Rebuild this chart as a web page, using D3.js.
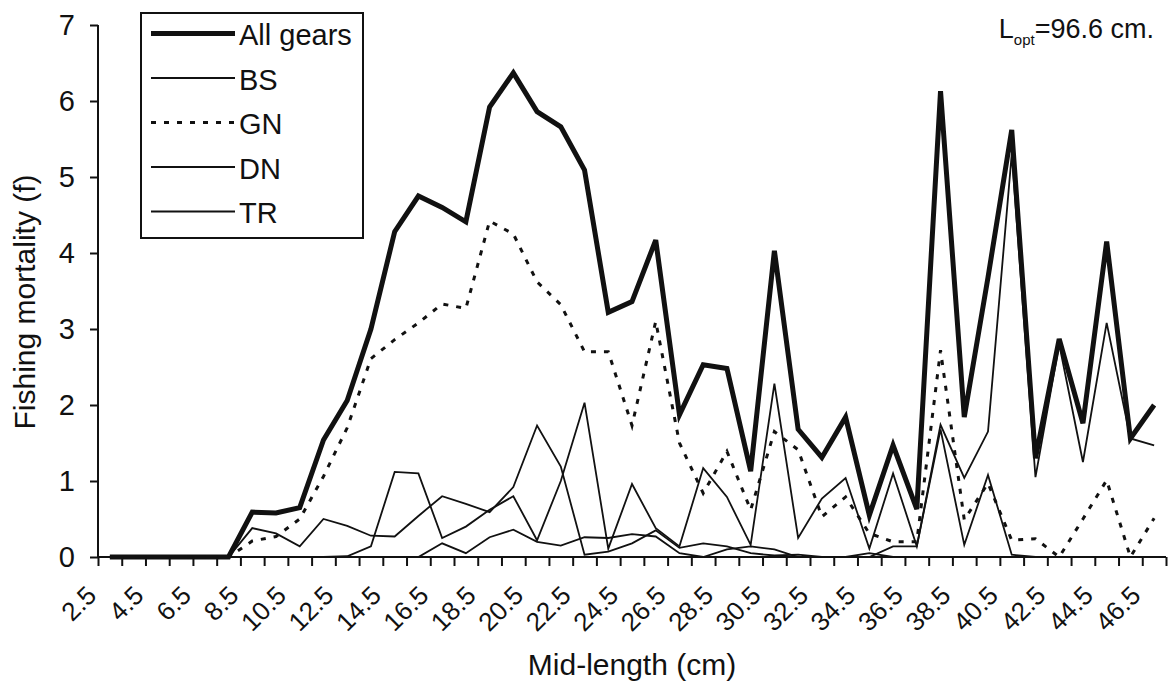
<!DOCTYPE html>
<html>
<head>
<meta charset="utf-8">
<script src="https://cdn.jsdelivr.net/npm/d3@7"></script>
<style>
  html, body { margin: 0; padding: 0; background: #fff; }
  svg { display: block; font-family: "Liberation Sans", Arial, sans-serif; }
</style>
</head>
<body>
<svg id="chart" width="1168" height="691"></svg>
<script>
// Mid-length classes (cm)
const categories = [
  "2.5","3.5","4.5","5.5","6.5","7.5","8.5","9.5","10.5","11.5",
  "12.5","13.5","14.5","15.5","16.5","17.5","18.5","19.5","20.5","21.5",
  "22.5","23.5","24.5","25.5","26.5","27.5","28.5","29.5","30.5","31.5",
  "32.5","33.5","34.5","35.5","36.5","37.5","38.5","39.5","40.5","41.5",
  "42.5","43.5","44.5","45.5","46.5"
];

// Fishing mortality per length class, by gear
const allGears = [
  0, 0, 0, 0, 0, 0, 0.59, 0.58, 0.65, 1.54,
  2.06, 3.0, 4.28, 4.75, 4.6, 4.41, 5.92, 6.37, 5.86, 5.66,
  5.09, 3.22, 3.36, 4.17, 1.87, 2.53, 2.48, 1.13, 4.03, 1.68,
  1.31, 1.84, 0.55, 1.47, 0.63, 6.13, 1.84, 3.68, 5.62, 1.3,
  2.87, 1.76, 4.15, 1.56, 2.0
];
const bs = [
  0, 0, 0, 0, 0, 0, 0.38, 0.31, 0.14, 0.5,
  0.41, 0.28, 0.27, 0.54, 0.8, 0.7, 0.59, 0.92, 1.73, 1.19,
  0.03, 0.07, 0.18, 0.35, 0.12, 0.18, 0.14, 0.05, 0.02, 0.03,
  0, 0, 0.05, 0, 0, 0, 0, 0, 0, 0,
  0, 0, 0, 0, 0
];
const gn = [
  0, 0, 0, 0, 0, 0, 0.21, 0.27, 0.5, 1.06,
  1.7, 2.61, 2.86, 3.08, 3.33, 3.27, 4.42, 4.25, 3.62, 3.32,
  2.7, 2.7, 1.73, 3.1, 1.5, 0.84, 1.39, 0.62, 1.65, 1.41,
  0.53, 0.79, 0.31, 0.2, 0.2, 2.72, 0.49, 0.97, 0.22, 0.24,
  0, 0.5, 1.01, 0, 0.51
];
const dn = [
  0, 0, 0, 0, 0, 0, 0, 0, 0, 0,
  0, 0, 0, 0, 0.18, 0.05, 0.26, 0.36, 0.2, 0.15,
  0.26, 0.25, 0.3, 0.27, 0.05, 0, 0.1, 0.14, 0.1, 0,
  0, 0, 0, 0.14, 0.14, 1.68, 0.16, 1.08, 0.03, 0,
  0, 0, 0, 0, 0
];
const tr = [
  0, 0, 0, 0, 0, 0, 0, 0, 0, 0,
  0.01, 0.14, 1.12, 1.1, 0.25, 0.4, 0.62, 0.8, 0.22, 1.0,
  2.03, 0.11, 0.96, 0.38, 0.14, 1.17, 0.79, 0.16, 2.28, 0.25,
  0.77, 1.04, 0.11, 1.1, 0.14, 1.74, 1.04, 1.65, 5.3, 1.05,
  2.8, 1.25, 3.08, 1.56, 1.47
];

const yTicks = [0, 1, 2, 3, 4, 5, 6, 7];
const xTickLabels = categories.filter((d, i) => i % 2 === 0);

const seriesNames = ["All gears", "BS", "GN", "DN", "TR"];
const seriesValues = [allGears, bs, gn, dn, tr];

const styles = {
  "All gears": { width: 5, dash: null },
  "BS": { width: 1.8, dash: null },
  "GN": { width: 3, dash: "5,8" },
  "DN": { width: 1.8, dash: null },
  "TR": { width: 1.8, dash: null }
};

const svg = d3.select("#chart");
const plot = { left: 98, right: 1166, top: 25, bottom: 557 };

const x = d3.scaleBand().domain(categories).range([plot.left, plot.right]).padding(0);
const xEdge = d3.scaleLinear().domain([0, categories.length]).range([plot.left, plot.right]);
const y = d3.scaleLinear().domain([0, 7]).range([plot.bottom, plot.top]);
const cx = c => x(c) + x.bandwidth() / 2;

// Series lines
const line = d3.line()
  .x(d => cx(d.c))
  .y(d => y(d.v));

seriesNames.forEach((name, k) => {
  const pts = categories.map((c, i) => ({ c, v: seriesValues[k][i] }));
  const st = styles[name];
  svg.append("path")
    .datum(pts)
    .attr("fill", "none")
    .attr("stroke", "#111")
    .attr("stroke-width", st.width)
    .attr("stroke-linejoin", "miter")
    .attr("stroke-dasharray", st.dash)
    .attr("d", line);
});

// Y axis
const yAxis = svg.append("g")
  .attr("transform", `translate(${plot.left},0)`)
  .call(d3.axisLeft(y).tickValues(yTicks).tickFormat(d3.format("d")).tickSize(8).tickPadding(15));
yAxis.select(".domain").attr("stroke", "#111").attr("stroke-width", 2).attr("d", `M0,${plot.top}V${plot.bottom}`);
yAxis.selectAll(".tick line").attr("stroke", "#111").attr("stroke-width", 2);
yAxis.selectAll(".tick text")
  .attr("font-size", 29)
  .attr("font-family", "Liberation Sans, Arial, sans-serif")
  .attr("fill", "#111");

// X axis: ticks on category boundaries
const xAxis = svg.append("g")
  .attr("transform", `translate(0,${plot.bottom})`)
  .call(d3.axisBottom(xEdge).tickValues(d3.range(categories.length + 1)).tickFormat("").tickSize(9));
xAxis.select(".domain").attr("stroke", "#111").attr("stroke-width", 2).attr("d", `M${plot.left},0H${plot.right}`);
xAxis.selectAll(".tick line").attr("stroke", "#111").attr("stroke-width", 2);

// X tick labels, rotated
svg.append("g").selectAll("text")
  .data(xTickLabels)
  .join("text")
  .attr("transform", d => `translate(${cx(d) - 12},597) rotate(-45)`)
  .attr("text-anchor", "end")
  .attr("font-size", 26)
  .attr("fill", "#111")
  .text(d => d);

// Axis titles
svg.append("text")
  .attr("x", (plot.left + plot.right) / 2)
  .attr("y", 675)
  .attr("text-anchor", "middle")
  .attr("font-size", 30)
  .attr("fill", "#111")
  .text("Mid-length (cm)");

svg.append("text")
  .attr("transform", `translate(35,302) rotate(-90)`)
  .attr("text-anchor", "middle")
  .attr("font-size", 30)
  .attr("fill", "#111")
  .text("Fishing mortality (f)");

// Optimum length note
const note = svg.append("text")
  .attr("x", 1154)
  .attr("y", 38)
  .attr("text-anchor", "end")
  .attr("font-size", 27)
  .attr("fill", "#111");
note.append("tspan").text("L");
note.append("tspan").attr("font-size", 15).attr("dy", 7).text("opt");
note.append("tspan").attr("dy", -7).text("=96.6 cm.");

// Legend
const legend = svg.append("g");
legend.append("rect")
  .attr("x", 141).attr("y", 13)
  .attr("width", 222).attr("height", 225)
  .attr("fill", "#fff")
  .attr("stroke", "#111")
  .attr("stroke-width", 2);

seriesNames.forEach((name, i) => {
  const ly = 35 + i * 44.5;
  const st = styles[name];
  legend.append("line")
    .attr("x1", 151).attr("x2", 235)
    .attr("y1", ly - 1.5).attr("y2", ly - 1.5)
    .attr("stroke", "#111")
    .attr("stroke-width", st.width)
    .attr("stroke-dasharray", st.dash);
  legend.append("text")
    .attr("x", 239).attr("y", ly)
    .attr("dy", "0.36em")
    .attr("font-size", 29)
    .attr("fill", "#111")
    .text(name);
});
</script>
</body>
</html>
